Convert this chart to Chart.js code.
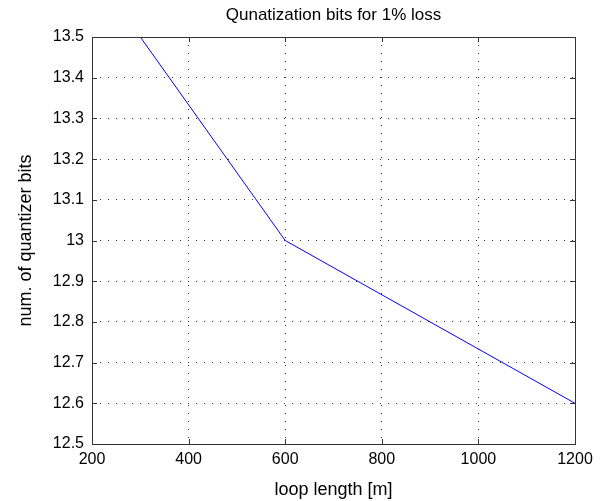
<!DOCTYPE html>
<html>
<head>
<meta charset="utf-8">
<script src="https://cdn.jsdelivr.net/npm/chart.js@4.4.0/dist/chart.umd.min.js"></script>
<style>
  html, body { margin: 0; padding: 0; background: #fff; }
  #wrap { width: 608px; height: 501px; }
</style>
</head>
<body>
<div id="wrap"><canvas id="c" width="608" height="501"></canvas></div>
<script>
// data
const loopLength = [300, 600, 1200];
const quantBits = [13.5, 13.0, 12.6];
const xTicks = [200, 400, 600, 800, 1000, 1200];
const yTicks = [12.5, 12.6, 12.7, 12.8, 12.9, 13, 13.1, 13.2, 13.3, 13.4, 13.5];
const chartTitle = "Qunatization bits for 1% loss";

const FONT = "'Liberation Sans', Arial, sans-serif";

// box + inward tick marks, matlab style; title centred over the axes
const boxPlugin = {
  id: "box",
  afterDraw(chart) {
    const { ctx, chartArea: a, scales } = chart;
    ctx.save();
    ctx.strokeStyle = "#333";
    ctx.lineWidth = 1;
    ctx.beginPath();
    xTicks.forEach((v) => {
      const px = Math.round(scales.x.getPixelForValue(v)) + 0.5;
      ctx.moveTo(px, a.bottom); ctx.lineTo(px, a.bottom - 5);
      ctx.moveTo(px, a.top); ctx.lineTo(px, a.top + 5);
    });
    yTicks.forEach((v) => {
      const py = Math.round(scales.y.getPixelForValue(v)) + 0.5;
      ctx.moveTo(a.left, py); ctx.lineTo(a.left + 5, py);
      ctx.moveTo(a.right, py); ctx.lineTo(a.right - 5, py);
    });
    ctx.stroke();
    ctx.strokeRect(Math.round(a.left) + 0.5, Math.round(a.top) + 0.5,
      Math.round(a.right - a.left), Math.round(a.bottom - a.top));

    ctx.fillStyle = "#000";
    ctx.font = "17px " + FONT;
    ctx.textAlign = "center";
    ctx.textBaseline = "middle";
    ctx.fillText(chartTitle, (a.left + a.right) / 2, 15);
    ctx.restore();
  },
};

new Chart(document.getElementById("c"), {
  type: "line",
  data: {
    datasets: [{
      data: loopLength.map((x, i) => ({ x: x, y: quantBits[i] })),
      borderColor: "#0000ff",
      borderWidth: 1,
      pointRadius: 0,
      tension: 0,
    }],
  },
  options: {
    responsive: false,
    animation: false,
    layout: { padding: { left: 0, right: 33, top: 37, bottom: 0 } },
    plugins: {
      legend: { display: false },
      tooltip: { enabled: false },
      title: { display: false },
    },
    scales: {
      x: {
        type: "linear",
        min: 200,
        max: 1200,
        afterBuildTicks: (s) => { s.ticks = xTicks.map((v) => ({ value: v })); },
        afterFit: (s) => { s.height = 57; },
        grid: { color: "#333", drawTicks: false, tickLength: 0 },
        border: { display: false, dash: [1, 7] },
        ticks: {
          color: "#000",
          font: { family: FONT, size: 16 },
          padding: 6,
          maxRotation: 0,
          callback: (v) => String(v),
        },
        title: {
          display: true,
          text: "loop length [m]",
          color: "#000",
          font: { family: FONT, size: 18 },
          padding: { top: 4, bottom: 0 },
        },
      },
      y: {
        type: "linear",
        min: 12.5,
        max: 13.5,
        afterBuildTicks: (s) => { s.ticks = yTicks.map((v) => ({ value: v })); },
        afterFit: (s) => { s.width = 92; },
        grid: { color: "#333", drawTicks: false, tickLength: 0 },
        border: { display: false, dash: [1, 7] },
        ticks: {
          color: "#000",
          font: { family: FONT, size: 16 },
          padding: 8,
          callback: (v) => String(Math.round(v * 10) / 10),
        },
        title: {
          display: true,
          text: "num. of quantizer bits",
          color: "#000",
          font: { family: FONT, size: 18 },
          padding: { top: 15, bottom: 0 },
        },
      },
    },
  },
  plugins: [boxPlugin],
});
</script>
</body>
</html>
